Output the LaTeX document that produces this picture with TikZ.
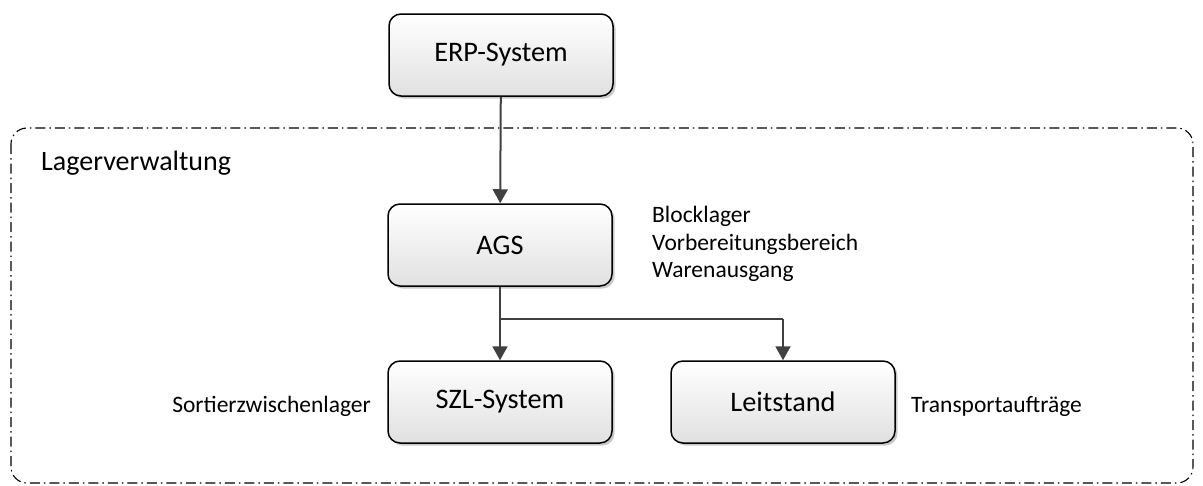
\documentclass[tikz,border=0pt]{standalone}
\usepackage{fontspec}
\setmainfont{Carlito}
\usetikzlibrary{arrows.meta,shadows}
\definecolor{conncol}{HTML}{404040}
\tikzset{
  sysbox/.style={draw=black, line width=1.5pt, rounded corners=12pt,
    top color=white, bottom color=black!12,
    minimum width=224pt, minimum height=82pt, inner sep=0pt,
    font=\fontsize{28.3}{32}\selectfont,
    drop shadow={shadow xshift=2.5pt, shadow yshift=-2.5pt, fill=black!35, opacity=0.6}},
  conn/.style={draw=conncol, line width=2pt, -{Triangle[length=14pt,width=15pt]}},
  plain/.style={draw=conncol, line width=2pt},
  lbl/.style={font=\fontsize{23.5}{27.5}\selectfont, inner sep=0pt, align=left},
  area/.style={draw=black, line width=1.1pt, rounded corners=16pt,
    dash pattern=on 10pt off 4pt on 1.5pt off 4pt}
}
\begin{document}
\begin{tikzpicture}[x=1pt,y=-1pt]
\useasboundingbox (0,0) rectangle (1203,485);
\draw[area] (11,128) rectangle (1193,483);
\node[inner sep=0pt, anchor=west, font=\fontsize{28}{32}\selectfont] (lv) at (41,163) {Lagerverwaltung};
\node[sysbox] (erp) at (501,55) {ERP-System};
\node[sysbox] (ags) at (500,245) {AGS};
\node[sysbox] (szl) at (500,402) {SZL-System};
\node[sysbox] (leit) at (783,402) {Leitstand};
\coordinate (j) at (500,319);
\draw[conn] (erp) -- (ags);
\draw[conn] (ags) -- (szl);
\draw[plain] (j) -- (j -| leit.north);
\draw[conn] (j -| leit.north) -- (leit.north);
\node[lbl, anchor=west] (bl) at (652,244) {Blocklager\\Vorbereitungsbereich\\Warenausgang};
\node[lbl, anchor=east] (sz) at (371,406) {Sortierzwischenlager};
\node[lbl, anchor=west] (ta) at (911,406) {Transportaufträge};
\end{tikzpicture}
\end{document}
